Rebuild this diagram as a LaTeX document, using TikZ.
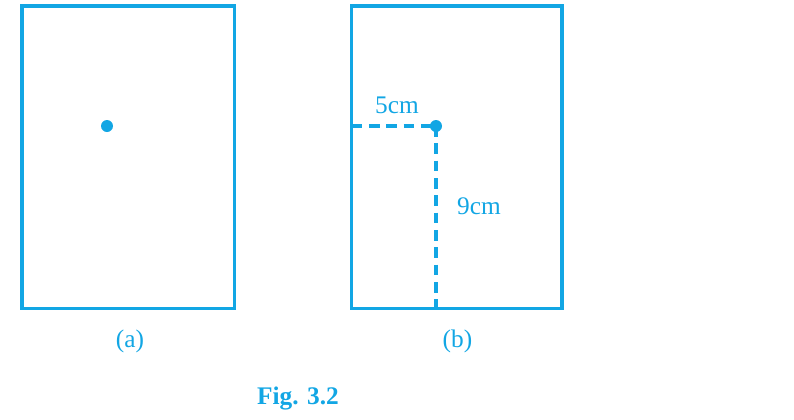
\documentclass[tikz,border=0pt]{standalone}
\usepackage{fontspec}
\setmainfont{Liberation Serif}
\definecolor{figblue}{RGB}{18,166,228}
\begin{document}
\begin{tikzpicture}[x=0.75pt,y=-0.75pt,
  frame/.style={draw=figblue,line width=2.4pt},
  dashline/.style={draw=figblue,line width=2.3pt,dash pattern=on 8pt off 5pt},
  spot/.style={circle,fill=figblue,inner sep=0pt,minimum size=9pt},
  lbl/.style={text=figblue,font=\fontsize{19}{22}\selectfont,inner sep=0pt,anchor=base}]
\useasboundingbox (0,0) rectangle (794,419);
% (a)
\draw[frame] (22,6) rectangle (234.5,308.5);
\node[spot] (pa) at (107,126) {};
\node[lbl] (la) at (130,347.5) {(a)};
% (b)
\draw[frame] (351.5,6) rectangle (562,308.5);
\coordinate (bl) at (351.5,126);
\coordinate (bb) at (436,308.5);
\node[spot] (pb) at (436,126) {};
\draw[dashline] (bl) -- (pb.center);
\draw[dashline] (pb.center) -- (bb);
\node[lbl] (l5) at (397,113) {5cm};
\node[lbl] (l9) at (479,214) {9cm};
\node[lbl] (lb) at (457.5,347.5) {(b)};
% caption
\node[lbl,font=\fontsize{19}{22}\selectfont\bfseries] (cap) at (298,404) {Fig. 3.2};
\end{tikzpicture}
\end{document}
